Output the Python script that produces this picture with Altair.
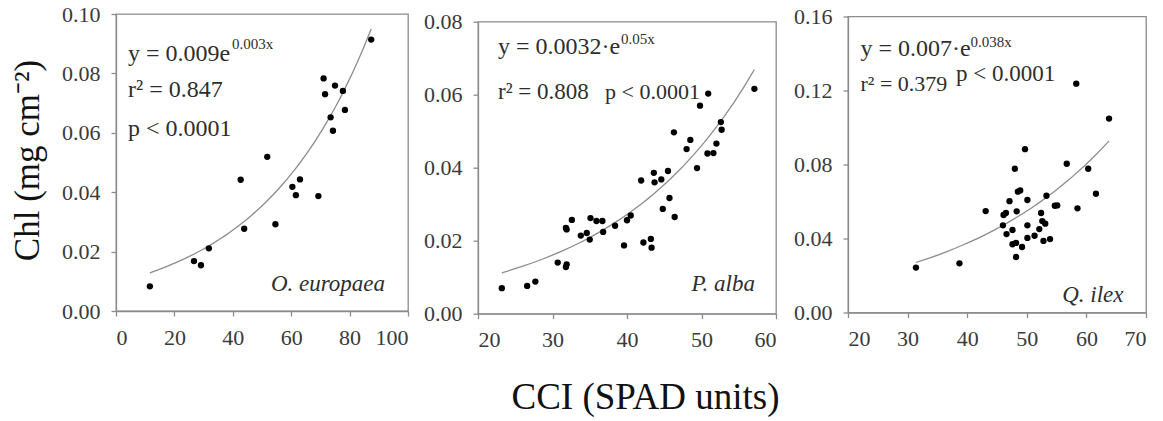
import altair as alt
import pandas as pd

# ---- data ----
OE_X = [11.6, 26.7, 29.1, 31.8, 42.7, 43.9, 51.8, 54.6, 60.4, 61.6, 63.0, 69.3,
        71.1, 71.6, 73.5, 74.3, 75.0, 77.7, 78.4, 87.4]
OE_Y = [0.0083, 0.0168, 0.0154, 0.0211, 0.0442, 0.0277, 0.0519, 0.0292, 0.0418, 0.0390,
        0.0443, 0.0387, 0.0783, 0.0730, 0.0652, 0.0607, 0.0759, 0.0741, 0.0677, 0.0914]

PA_X = [23.2, 26.6, 27.7, 30.7, 31.8, 31.9, 31.8, 31.9, 32.6, 33.8, 34.6, 35.0, 35.1,
        35.9, 36.7, 36.8, 38.4, 39.6, 40.0, 40.5, 41.9, 42.2, 43.2, 43.3, 43.6, 43.7,
        44.6, 44.8, 45.5, 45.7, 46.3, 46.4, 48.0, 48.5, 49.4, 49.8, 50.9, 50.8, 51.6,
        52.0, 52.6, 52.7, 57.1]
PA_Y = [0.0070, 0.0076, 0.0088, 0.0140, 0.0128, 0.0135, 0.0235, 0.0231, 0.0257, 0.0214,
        0.0221, 0.0203, 0.0262, 0.0254, 0.0254, 0.0224, 0.0241, 0.0187, 0.0256, 0.0269,
        0.0365, 0.0195, 0.0205, 0.0181, 0.0386, 0.0360, 0.0368, 0.0287, 0.0391, 0.0317,
        0.0497, 0.0265, 0.0451, 0.0476, 0.0399, 0.0570, 0.0603, 0.0439, 0.0440, 0.0466,
        0.0525, 0.0504, 0.0616]

QI_X = [31.4, 38.7, 43.1, 46.0, 46.1, 46.5, 46.6, 47.1, 47.6, 47.6, 48.0, 48.2, 48.2,
        48.3, 48.5, 48.9, 49.2, 49.7, 50.1, 50.1, 50.1, 51.3, 52.1, 52.4, 52.6, 52.8,
        53.1, 53.3, 53.9, 54.7, 55.1, 56.7, 58.3, 58.5, 60.3, 61.6, 63.8]
QI_Y = [0.0243, 0.0266, 0.0548, 0.0471, 0.0527, 0.0538, 0.0424, 0.0602, 0.0446, 0.0369,
        0.0777, 0.0376, 0.0300, 0.0547, 0.0653, 0.0660, 0.0354, 0.0883, 0.0608, 0.0471,
        0.0403, 0.0415, 0.0451, 0.0538, 0.0494, 0.0387, 0.0480, 0.0631, 0.0397, 0.0577,
        0.0579, 0.0804, 0.1237, 0.0563, 0.0777, 0.0642, 0.1048]

SPECIES = ["O. europaea", "P. alba", "Q. ilex"]
EQ_MAIN = ["y = 0.009e", "y = 0.0032\u00b7e", "y = 0.007\u00b7e"]
EQ_EXP = ["0.003x", "0.05x", "0.038x"]
R2 = ["r\u00b2 = 0.847", "r\u00b2 = 0.808", "r\u00b2 = 0.379"]
PVAL = "p < 0.0001"

X_DOMAINS = [[0, 100], [20, 60], [20, 70]]
X_TICKS = [[0, 20, 40, 60, 80, 100], [20, 30, 40, 50, 60], [20, 30, 40, 50, 60, 70]]
Y_DOMAINS = [[0, 0.10], [0, 0.08], [0, 0.16]]
Y_TICKS = [[0, 0.02, 0.04, 0.06, 0.08, 0.10], [0, 0.02, 0.04, 0.06, 0.08],
           [0, 0.04, 0.08, 0.12, 0.16]]

Y_TITLE = "Chl (mg cm\u207b\u00b2)"
X_TITLE = "CCI (SPAD units)"

FONT = "Liberation Serif"
TXT = "#2e2e2e"
GRAY = "#8c8c8c"

# layout (pixels)
WIDTHS = [292, 298, 298]
HEIGHTS = [297, 292, 296]
TOP_SHIFT = [0, 7.7, 2.5]

# annotation placement (plot-relative pixels) and font sizes
ANN = [
    dict(eq=(12, 47), ex=(116, 35), r2=(12, 83), p=(12, 122), sp=(269, 277),
         fr2=24, fp=24),
    dict(eq=(20, 32), ex=(143, 22), r2=(20, 77), p=(127, 77), sp=(277, 269),
         fr2=23, fp=22),
    dict(eq=(12.5, 39.5), ex=(122.5, 30), r2=(12.5, 74.5), p=(108, 64.5), sp=(275.5, 285.5),
         fr2=22, fp=23),
]


def txt(s, pos, size=24, italic=False, align="left"):
    return alt.Chart(pd.DataFrame({"t": [s]})).mark_text(
        font=FONT, fontSize=size, color=TXT, align=align, baseline="alphabetic",
        fontStyle="italic" if italic else "normal",
    ).encode(text="t:N", x=alt.value(pos[0]), y=alt.value(pos[1]))


def panel(i, xs, ys):
    df = pd.DataFrame({"x": xs, "y": ys})
    xaxis = alt.Axis(values=X_TICKS[i], format="d", grid=False, tickSize=5,
                     labelPadding=11, title=None)
    yaxis = alt.Axis(values=Y_TICKS[i], format=".2f", grid=False, tickSize=5,
                     labelPadding=11, title=None)
    if i == 1:
        xaxis = alt.Axis(values=X_TICKS[i], format="d", grid=False, tickSize=5,
                         labelPadding=11, title=X_TITLE, titleFontSize=37,
                         titleFont=FONT, titleFontWeight="normal", titleColor="#111",
                         titleX=167, titleY=95, titleBaseline="alphabetic")
    if i == 0:
        yaxis = alt.Axis(values=Y_TICKS[i], format=".2f", grid=False, tickSize=5,
                         labelPadding=11, title=Y_TITLE, titleFontSize=35,
                         titleFont=FONT, titleFontWeight="normal", titleColor="#111",
                         titleX=-78, titleY=146, titleBaseline="alphabetic",
                         titleAngle=-90)
    xenc = alt.X("x:Q", scale=alt.Scale(domain=X_DOMAINS[i], nice=False, zero=False),
                 axis=xaxis)
    yenc = alt.Y("y:Q", scale=alt.Scale(domain=Y_DOMAINS[i], nice=False), axis=yaxis)

    pts = alt.Chart(df).mark_circle(size=40, color="black", opacity=1).encode(x=xenc, y=yenc)
    fit = alt.Chart(df).transform_regression("x", "y", method="exp").mark_line(
        color=GRAY, strokeWidth=1.3).encode(x=xenc, y=yenc)

    a = ANN[i]
    layers = [fit, pts,
              txt(EQ_MAIN[i], a["eq"], 24),
              txt(EQ_EXP[i], a["ex"], 15),
              txt(R2[i], a["r2"], a["fr2"]),
              txt(PVAL, a["p"], a["fp"]),
              txt(SPECIES[i], a["sp"], 23, italic=True, align="right")]
    ch = alt.layer(*layers).properties(width=WIDTHS[i], height=HEIGHTS[i])
    if TOP_SHIFT[i] > 0:
        spacer = alt.Chart(pd.DataFrame({"a": [0]})).mark_point(opacity=0).encode(
            x=alt.value(0), y=alt.value(0)).properties(
            width=WIDTHS[i], height=1, view=alt.ViewBackground(strokeOpacity=0))
        ch = alt.vconcat(spacer, ch, spacing=TOP_SHIFT[i] - 1, bounds="flush")
    return ch


chart = alt.hconcat(
    panel(0, OE_X, OE_Y), panel(1, PA_X, PA_Y), panel(2, QI_X, QI_Y),
    spacing=12,
).properties(
    padding={"left": 9, "top": 2, "right": 5, "bottom": 5},
    background="white",
).configure_view(
    stroke=GRAY, strokeWidth=1.3,
).configure_axis(
    domainColor=GRAY, tickColor=GRAY, labelFont=FONT, labelFontSize=22,
    labelColor="#3a3a3a", domainWidth=1.3, tickWidth=1.3,
)

chart.save("out.html", embed_options={"renderer": "svg", "actions": False})
